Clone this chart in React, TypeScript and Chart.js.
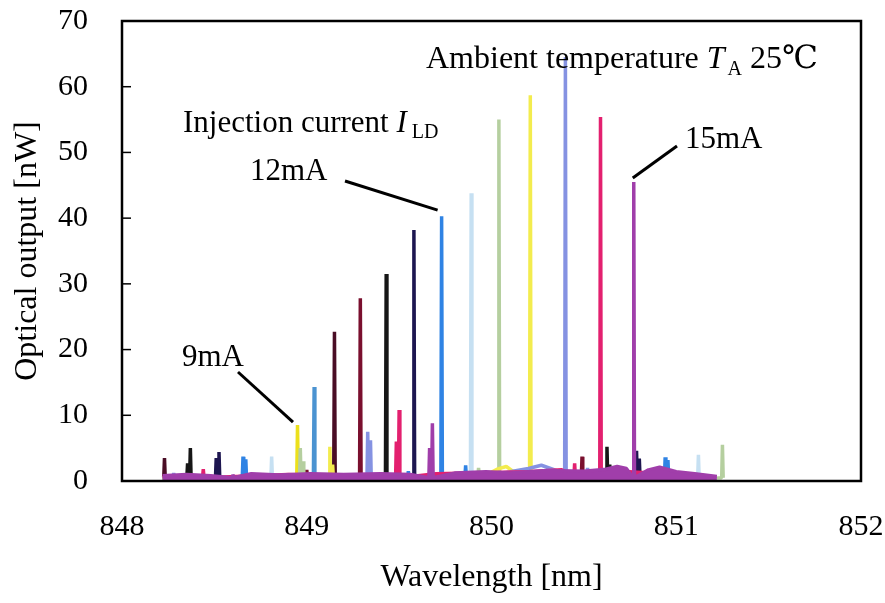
import { useEffect, useRef } from 'react';
import { Chart, registerables } from 'chart.js';

Chart.register(...registerables);

// Injection currents (mA), one spectrum each
const currents = ['9.0', '9.5', '10.0', '10.5', '11.0', '11.5', '12.0', '12.5', '13.0', '13.5', '14.0', '14.5', '15.0'];

const traceColors = [
  '#ece01c', '#4b93d1', '#4a0d25', '#7a0f2e', '#161616', '#1d1650', '#2f83e4',
  '#c6e0f2', '#b5cf9f', '#f3ec4e', '#8592e2', '#e3206f', '#a03eaa',
];

// Lasing mode of each spectrum: wavelength [nm] and optical output [nW]
const mainWavelength = [848.95, 849.04, 849.15, 849.29, 849.43, 849.58, 849.73, 849.89, 850.04, 850.21, 850.40, 850.59, 850.77];
const mainOutput = [8.5, 14.3, 22.7, 27.8, 31.5, 38.2, 40.3, 43.8, 55.0, 58.7, 64.5, 55.4, 45.5];

// Side modes of each spectrum: [wavelength, output]
const sideModes: [number, number][][] = [
  [],
  [],
  [[848.23, 3.5]],
  [[849.0, 1.7], [850.49, 3.7]],
  [[848.355, 2.7], [848.37, 5.0], [850.625, 5.2], [850.64, 2.5]],
  [[848.51, 3.5], [848.525, 4.4], [850.785, 4.6], [850.8, 3.4], [851.0, 1.5]],
  [[848.655, 3.7], [848.67, 3.3], [849.55, 1.5], [849.86, 2.4], [850.94, 3.6], [850.955, 3.2]],
  [[848.81, 3.7], [851.12, 4.0]],
  [[848.965, 5.0], [848.98, 3.0], [849.93, 2.0], [851.25, 5.5]],
  [[849.125, 5.2], [849.14, 2.5]],
  [[848.28, 1.2], [849.33, 7.5], [849.345, 6.2], [850.52, 2.0]],
  [[848.44, 1.8], [849.485, 6.0], [849.5, 10.8], [850.45, 2.7]],
  [[848.6, 1.0], [849.665, 5.0], [849.68, 8.8]],
];

// Background level of each spectrum: [wavelength, output]
const flatFloor: [number, number][] = [[848.22, 0.4], [851.2, 0.4]];
const floor13_5: [number, number][] = [[848.22, 0.4], [849.95, 0.6], [850.03, 1.8], [850.08, 2.2], [850.13, 1.2], [851.1, 0.4]];
const floor14_0: [number, number][] = [[848.22, 0.4], [849.9, 0.6], [850.1, 1.4], [850.2, 1.9], [850.27, 2.4], [850.35, 1.6], [850.55, 1.0], [851.1, 0.4]];
const floor14_5: [number, number][] = [[848.22, 0.7], [848.9, 1.0], [849.7, 1.1], [850.2, 1.4], [850.38, 1.7], [850.7, 1.5], [851.0, 1.0], [851.2, 0.6]];
const floor15_0: [number, number][] = [
  [848.22, 0.8], [848.35, 1.0], [848.48, 0.8], [848.7, 1.1], [848.85, 0.9], [849.02, 1.1], [849.2, 1.0],
  [849.4, 1.1], [849.56, 1.0], [849.8, 1.2], [849.97, 1.4], [850.1, 1.2], [850.3, 1.6], [850.5, 1.5],
  [850.62, 1.8], [850.68, 2.2], [850.73, 1.9], [850.85, 1.7], [850.91, 2.1], [851.0, 1.4], [851.1, 1.1], [851.22, 0.7],
];
const floors = [
  flatFloor, flatFloor, flatFloor, flatFloor, flatFloor, flatFloor, flatFloor,
  flatFloor, flatFloor, floor13_5, floor14_0, floor14_5, floor15_0,
];
const filledTraces = ['14.5', '15.0'];
const spikeBase = 0.5;

const xTicks = [848, 849, 850, 851, 852];
const yTicks = [0, 10, 20, 30, 40, 50, 60, 70];

const SERIF = '"Liberation Serif", "Times New Roman", "DejaVu Serif", serif';

function buildTrace(i: number) {
  const pts: { x: number; y: number }[] = floors[i].map(([x, y]) => ({ x, y }));
  const spikes: [number, number][] = [[mainWavelength[i], mainOutput[i]], ...sideModes[i]];
  const hw = 0.004;
  for (const [x, y] of spikes) {
    pts.push({ x: x - hw, y: spikeBase }, { x, y }, { x: x + hw, y: spikeBase });
  }
  pts.sort((a, b) => a.x - b.x);
  return pts;
}

type Part = { text: string; size: number; italic?: boolean; dy?: number; gap?: number };

function drawRich(ctx: CanvasRenderingContext2D, x: number, y: number, parts: Part[]) {
  let cx = x;
  for (const p of parts) {
    ctx.font = `${p.italic ? 'italic ' : ''}${p.size}px ${SERIF}`;
    ctx.fillText(p.text, cx, y + (p.dy || 0));
    cx += ctx.measureText(p.text).width + (p.gap || 0);
  }
}

// Plot box, inner tick marks and the annotations
const framePlugin = {
  id: 'frameAndNotes',
  afterDraw(chart: any) {
    const { ctx, chartArea: a, scales } = chart;
    const xs = scales.x;
    const ys = scales.y;
    ctx.save();
    ctx.strokeStyle = '#000';
    ctx.lineWidth = 2.5;
    ctx.strokeRect(a.left, a.top, a.right - a.left, a.bottom - a.top);
    ctx.lineWidth = 1.5;
    for (const v of yTicks) {
      const y = ys.getPixelForValue(v);
      ctx.beginPath();
      ctx.moveTo(a.left, y);
      ctx.lineTo(a.left + 9, y);
      ctx.stroke();
    }

    ctx.fillStyle = '#000';
    ctx.textBaseline = 'alphabetic';
    ctx.textAlign = 'left';
    drawRich(ctx, 426, 68, [
      { text: 'Ambient temperature ', size: 32 },
      { text: 'T', size: 32, italic: true, gap: 3 },
      { text: 'A', size: 20, dy: 7 },
      { text: ' 25℃', size: 32 },
    ]);
    drawRich(ctx, 183, 132, [
      { text: 'Injection current ', size: 31 },
      { text: 'I', size: 31, italic: true, gap: 5 },
      { text: 'LD', size: 20, dy: 6 },
    ]);
    drawRich(ctx, 250, 180, [{ text: '12mA', size: 31 }]);
    drawRich(ctx, 685, 148, [{ text: '15mA', size: 31 }]);
    drawRich(ctx, 182, 366, [{ text: '9mA', size: 31 }]);

    // leader lines to the labelled lasing modes
    const leaders: [number, number, number, number, number][] = [
      [238, 372, 0, -4.5, -3],
      [345, 181, 6, -4, -6],
      [677, 146, 12, -1, -4],
    ];
    ctx.lineWidth = 3;
    for (const [sx, sy, idx, dx, dy] of leaders) {
      const ex = xs.getPixelForValue(mainWavelength[idx]) + dx;
      const ey = ys.getPixelForValue(mainOutput[idx]) + dy;
      ctx.beginPath();
      ctx.moveTo(sx, sy);
      ctx.lineTo(ex, ey);
      ctx.stroke();
    }
    ctx.restore();
  },
};

function zeroPadding(s: any) {
  s.paddingTop = 0;
  s.paddingBottom = 0;
  s.paddingLeft = 0;
  s.paddingRight = 0;
}

export default function App() {
  const canvasRef = useRef<HTMLCanvasElement | null>(null);

  useEffect(() => {
    document.body.style.margin = '0';
    const canvas = canvasRef.current;
    if (!canvas) return;
    const datasets = currents.map((c, i) => ({
      label: `${c} mA`,
      data: buildTrace(i),
      borderColor: traceColors[i],
      backgroundColor: traceColors[i],
      borderWidth: 3.5,
      borderJoinStyle: 'bevel' as const,
      pointRadius: 0,
      showLine: true,
      tension: 0,
      fill: filledTraces.includes(c) ? 'origin' : false,
      order: currents.length - 1 - i,
    }));

    const chart = new Chart(canvas, {
      type: 'scatter',
      data: { datasets },
      options: {
        animation: false,
        responsive: false,
        maintainAspectRatio: false,
        layout: { autoPadding: false, padding: { left: 0, top: 21, right: 24, bottom: 0 } },
        plugins: { legend: { display: false }, tooltip: { enabled: false }, title: { display: false } },
        scales: {
          x: {
            type: 'linear',
            min: xTicks[0],
            max: xTicks[xTicks.length - 1],
            afterFit: (s: any) => { s.height = 122; zeroPadding(s); },
            afterBuildTicks: (s: any) => { s.ticks = xTicks.map((v) => ({ value: v })); },
            grid: { display: false, drawTicks: false },
            border: { display: false },
            ticks: {
              padding: 28,
              color: '#000',
              font: { family: SERIF, size: 30 },
              callback: (v: any) => String(v),
            },
            title: {
              display: true,
              text: 'Wavelength [nm]',
              color: '#000',
              font: { family: SERIF, size: 32 },
              padding: { top: 0, bottom: 6 },
            },
          },
          y: {
            type: 'linear',
            min: yTicks[0],
            max: yTicks[yTicks.length - 1],
            afterFit: (s: any) => { s.width = 122; zeroPadding(s); },
            afterBuildTicks: (s: any) => { s.ticks = yTicks.map((v) => ({ value: v })); },
            grid: { display: false, drawTicks: false },
            border: { display: false },
            ticks: {
              padding: 34,
              color: '#000',
              font: { family: SERIF, size: 30 },
              callback: (v: any) => String(v),
            },
            title: {
              display: true,
              text: 'Optical output [nW]',
              color: '#000',
              font: { family: SERIF, size: 32 },
              padding: { top: 8, bottom: 0 },
            },
          },
        },
      },
      plugins: [framePlugin],
    });
    return () => chart.destroy();
  }, []);

  return (
    <div style={{ width: 885, height: 603, background: '#fff' }}>
      <canvas ref={canvasRef} width={885} height={603} style={{ display: 'block' }} />
    </div>
  );
}
